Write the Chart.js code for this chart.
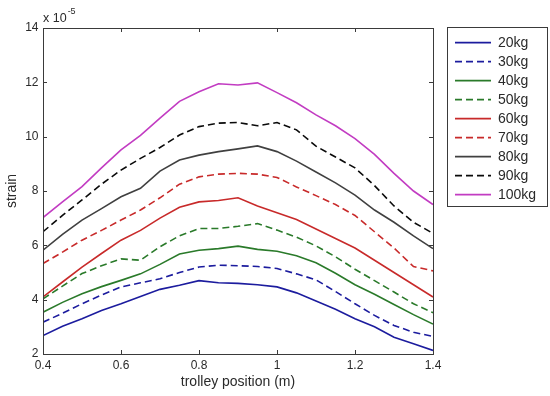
<!DOCTYPE html>
<html>
<head>
<meta charset="utf-8">
<script src="https://cdn.jsdelivr.net/npm/chart.js@4/dist/chart.umd.min.js"></script>
<style>
  html, body { margin: 0; padding: 0; background: #ffffff; }
  #wrap { width: 550px; height: 396px; }
</style>
</head>
<body>
<div id="wrap"><canvas id="c" width="550" height="396"></canvas></div>
<script>
// trolley position (m)
const positions = [0.40,0.45,0.50,0.55,0.60,0.65,0.70,0.75,0.80,0.85,0.90,0.95,1.00,1.05,1.10,1.15,1.20,1.25,1.30,1.35,1.40];
// strain (x 1e-5)
const kg20  = [2.68,3.02,3.30,3.60,3.85,4.12,4.38,4.53,4.70,4.62,4.60,4.55,4.47,4.25,3.95,3.65,3.30,3.00,2.62,2.38,2.13];
const kg30  = [3.17,3.50,3.85,4.17,4.47,4.62,4.77,5.00,5.20,5.27,5.25,5.22,5.15,4.95,4.73,4.30,3.85,3.42,3.05,2.80,2.65];
const kg40  = [3.54,3.90,4.22,4.48,4.71,4.95,5.30,5.68,5.82,5.88,5.97,5.85,5.78,5.62,5.36,4.97,4.55,4.20,3.82,3.45,3.10];
const kg50  = [4.03,4.50,4.96,5.25,5.50,5.45,5.95,6.35,6.62,6.62,6.70,6.80,6.56,6.30,5.98,5.58,5.12,4.70,4.28,3.85,3.52];
const kg60  = [4.10,4.65,5.20,5.70,6.19,6.55,7.00,7.40,7.60,7.65,7.75,7.45,7.20,6.95,6.60,6.25,5.90,5.45,5.00,4.55,4.10];
const kg70  = [5.33,5.75,6.19,6.55,6.93,7.30,7.75,8.25,8.52,8.62,8.65,8.62,8.50,8.15,7.83,7.50,7.10,6.50,5.90,5.22,5.06];
const kg80  = [5.82,6.40,6.93,7.35,7.79,8.10,8.73,9.14,9.32,9.45,9.55,9.66,9.45,9.10,8.70,8.30,7.85,7.30,6.85,6.35,5.88];
const kg90  = [6.50,7.10,7.67,8.25,8.77,9.20,9.60,10.06,10.37,10.50,10.52,10.40,10.52,10.25,9.65,9.25,8.85,8.20,7.45,6.85,6.44];
const kg100 = [7.02,7.60,8.16,8.85,9.51,10.05,10.68,11.30,11.65,11.95,11.90,11.98,11.62,11.25,10.80,10.40,9.93,9.35,8.65,8.00,7.50];

const seriesLabels = ['20kg','30kg','40kg','50kg','60kg','70kg','80kg','90kg','100kg'];
const seriesValues = [kg20, kg30, kg40, kg50, kg60, kg70, kg80, kg90, kg100];
const seriesColors = ['#1c1c9e','#1c1c9e','#2a7a2a','#2a7a2a','#c82a2a','#c82a2a','#404040','#0a0a0a','#c23cc2'];
const seriesDashed = [false,true,false,true,false,true,false,true,false];

const xTicks = [0.4, 0.6, 0.8, 1.0, 1.2, 1.4];
const yTicks = [2, 4, 6, 8, 10, 12, 14];

const FONT = "'Liberation Sans', Arial, Helvetica, sans-serif";
const AXIS_COLOR = '#3a3a3a';
const TEXT_COLOR = '#2a2a2a';

const datasets = seriesLabels.map((lab, i) => ({
  label: lab,
  data: positions.map((x, j) => ({ x: x, y: seriesValues[i][j] })),
  borderColor: seriesColors[i],
  backgroundColor: seriesColors[i],
  borderWidth: 1.6,
  borderDash: seriesDashed[i] ? [7, 4] : [],
  pointRadius: 0,
  pointHoverRadius: 0,
  tension: 0,
  fill: false
}));

const boxPlugin = {
  id: 'matlabBox',
  afterDatasetsDraw(chart) {
    const ctx = chart.ctx;
    const a = chart.chartArea;
    const xs = chart.scales.x, ys = chart.scales.y;
    ctx.save();
    ctx.strokeStyle = AXIS_COLOR;
    ctx.lineWidth = 1;
    ctx.setLineDash([]);
    ctx.strokeRect(Math.round(a.left) + 0.5, Math.round(a.top) + 0.5,
                   Math.round(a.right - a.left), Math.round(a.bottom - a.top));
    const L = 4;
    ctx.beginPath();
    xTicks.forEach(v => {
      const px = Math.round(xs.getPixelForValue(v)) + 0.5;
      ctx.moveTo(px, a.bottom); ctx.lineTo(px, a.bottom - L);
      ctx.moveTo(px, a.top); ctx.lineTo(px, a.top + L);
    });
    yTicks.forEach(v => {
      const py = Math.round(ys.getPixelForValue(v)) + 0.5;
      ctx.moveTo(a.left, py); ctx.lineTo(a.left + L, py);
      ctx.moveTo(a.right, py); ctx.lineTo(a.right - L, py);
    });
    ctx.stroke();
    ctx.restore();
  },
  afterDraw(chart) {
    const ctx = chart.ctx;
    const a = chart.chartArea;
    const lg = chart.legend;
    ctx.save();
    // exponent label
    ctx.fillStyle = TEXT_COLOR;
    ctx.textBaseline = 'middle';
    ctx.textAlign = 'left';
    ctx.font = '12.5px ' + FONT;
    const base = 'x 10';
    ctx.fillText(base, a.left, 18.5);
    const w = ctx.measureText(base).width;
    ctx.font = '9px ' + FONT;
    ctx.fillText('-5', a.left + w + 1, 12);
    // legend border
    if (lg) {
      ctx.strokeStyle = '#3a3a3a';
      ctx.lineWidth = 1;
      ctx.strokeRect(Math.round(lg.left - 3) + 0.5, 27.5, 100, 179);
    }
    ctx.restore();
  }
};

new Chart(document.getElementById('c'), {
  type: 'line',
  data: { datasets },
  options: {
    responsive: false,
    animation: false,
    events: [],
    layout: { padding: { left: 0, top: 28, right: 10, bottom: 0 } },
    plugins: {
      tooltip: { enabled: false },
      legend: {
        display: true,
        position: 'right',
        align: 'start',
        fullSize: false,
        maxWidth: 90,
        title: { display: true, text: '', font: { size: 1, lineHeight: 1 }, padding: { top: 1.7, bottom: 0 } },
        labels: {
          usePointStyle: true,
          pointStyle: 'line',
          pointStyleWidth: 36,
          boxHeight: 14,
          padding: 5,
          color: TEXT_COLOR,
          font: { family: FONT, size: 14 },
          generateLabels(chart) {
            const items = Chart.defaults.plugins.legend.labels.generateLabels(chart);
            items.forEach(it => {
              const ds = chart.data.datasets[it.datasetIndex];
              it.lineDash = ds.borderDash;
              it.lineWidth = 1.8;
              it.strokeStyle = ds.borderColor;
              it.fillStyle = ds.borderColor;
              it.pointStyle = 'line';
            });
            return items;
          }
        }
      }
    },
    scales: {
      x: {
        type: 'linear',
        position: 'bottom',
        min: 0.4,
        max: 1.4,
        afterBuildTicks(s) { s.ticks = xTicks.map(v => ({ value: v })); },
        afterFit(s) { s.height = 42; },
        grid: { display: false, drawTicks: false },
        border: { display: false },
        ticks: {
          padding: 4,
          color: TEXT_COLOR,
          font: { family: FONT, size: 12 },
          maxRotation: 0,
          callback: v => String(Math.round(v * 10) / 10)
        },
        title: {
          display: true,
          text: 'trolley position (m)',
          color: TEXT_COLOR,
          font: { family: FONT, size: 14 },
          padding: { top: 0, bottom: 5 }
        }
      },
      y: {
        type: 'linear',
        position: 'left',
        min: 2,
        max: 14,
        afterBuildTicks(s) { s.ticks = yTicks.map(v => ({ value: v })); },
        afterFit(s) { s.width = 43; },
        grid: { display: false, drawTicks: false },
        border: { display: false },
        ticks: {
          padding: 4.5,
          color: TEXT_COLOR,
          font: { family: FONT, size: 12 },
          callback: v => String(v)
        },
        title: {
          display: true,
          text: 'strain',
          color: TEXT_COLOR,
          font: { family: FONT, size: 14 },
          padding: { top: 4, bottom: 0 }
        }
      },
      gap: {
        type: 'linear',
        position: 'right',
        display: true,
        afterFit(s) { s.width = 17; },
        grid: { display: false, drawTicks: false },
        border: { display: false },
        ticks: { display: false }
      }
    }
  },
  plugins: [boxPlugin]
});
</script>
</body>
</html>
